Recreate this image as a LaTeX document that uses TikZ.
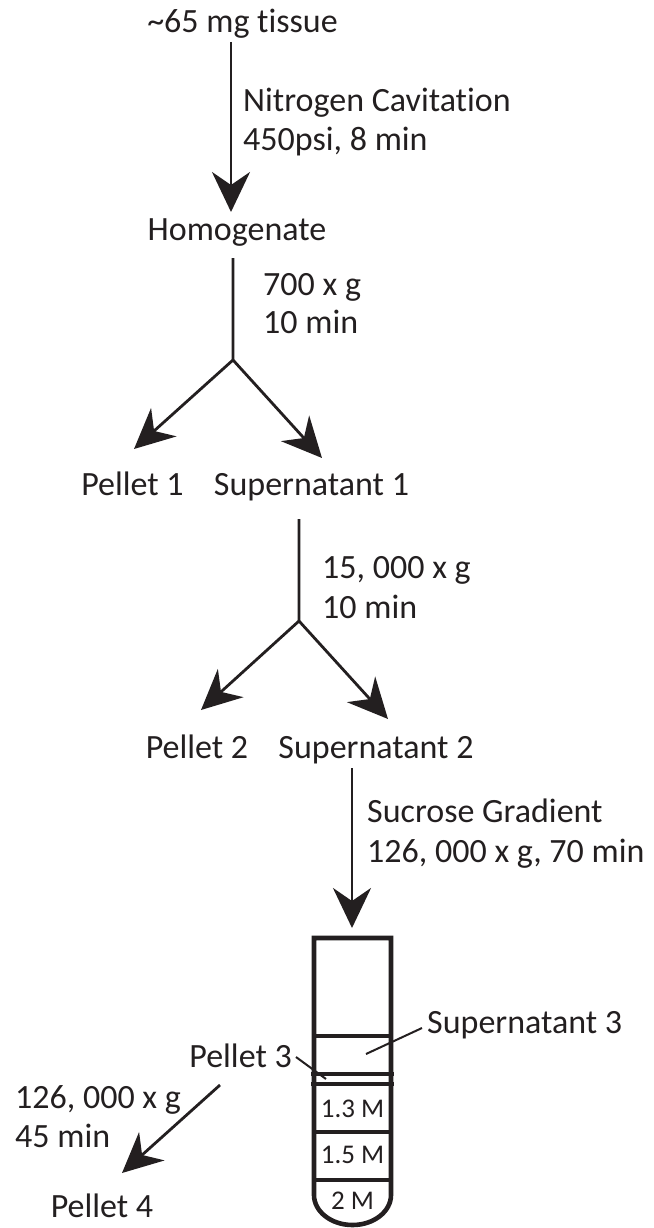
\documentclass[tikz,border=0pt]{standalone}
\usepackage{fontspec}
\setmainfont{Carlito}[Ligatures=NoCommon]
\usetikzlibrary{arrows.meta}
\definecolor{ink}{HTML}{231F20}
\begin{document}
\begin{tikzpicture}[x=1pt,y=-1pt,
  ln/.style={draw=ink,line width=2.8pt},
  arr/.style={ln,-{Stealth[length=40pt,width=38pt,inset=13pt]}},
  lbl/.style={inner sep=0pt,text=ink,font=\fontsize{34}{40}\selectfont},
  small/.style={inner sep=0pt,text=ink,font=\fontsize{27}{32}\selectfont},
  tube/.style={draw=ink,line width=4.6pt},
  lead/.style={draw=ink,line width=2pt}]
\useasboundingbox (0,0) rectangle (653,1228);
% text nodes
\node[lbl,anchor=base] (tissue) at (242.5,33) {\textasciitilde65 mg tissue};
\node[lbl,anchor=base west] (nc) at (243,112) {Nitrogen Cavitation};
\node[lbl,anchor=base west] (psi) at (243,150) {450psi, 8 min};
\node[lbl,anchor=base] (homog) at (237,240) {Homogenate};
\node[lbl,anchor=base west] (g700) at (263,295) {700 x g};
\node[lbl,anchor=base west] (m10a) at (263,333) {10 min};
\node[lbl,anchor=base] (p1) at (132.5,495) {Pellet 1};
\node[lbl,anchor=base] (s1) at (311.5,495) {Supernatant 1};
\node[lbl,anchor=base west] (g15) at (322,578) {15, 000 x g};
\node[lbl,anchor=base west] (m10b) at (322,618) {10 min};
\node[lbl,anchor=base] (p2) at (197,758) {Pellet 2};
\node[lbl,anchor=base] (s2) at (376,758) {Supernatant 2};
\node[lbl,anchor=base west] (suc) at (367,822) {Sucrose Gradient};
\node[lbl,anchor=base west] (g126a) at (367,862) {126, 000 x g, 70 min};
\node[lbl,anchor=base west] (s3) at (427,1033) {Supernatant 3};
\node[lbl,anchor=base east] (p3) at (292,1067) {Pellet 3};
\node[lbl,anchor=base west] (g126b) at (15,1108) {126, 000 x g};
\node[lbl,anchor=base west] (m45) at (15,1147) {45 min};
\node[lbl,anchor=base] (p4) at (102,1217) {Pellet 4};
\node[small,anchor=base] (m13) at (352.5,1117) {1.3 M};
\node[small,anchor=base] (m15) at (352.5,1163) {1.5 M};
\node[small,anchor=base] (m2) at (352.5,1209) {2 M};
% connector end points
\coordinate (a1s) at (231,42);  \coordinate (a1e) at (231,212);
\coordinate (l1s) at (233,258); \coordinate (b1) at (233,360);
\coordinate (p1t) at (134,449); \coordinate (s1t) at (322,458);
\coordinate (l2s) at (299,519); \coordinate (b2) at (299,621);
\coordinate (p2t) at (201,710); \coordinate (s2t) at (388,719);
\coordinate (a3s) at (352,768); \coordinate (a3e) at (352,928);
\coordinate (a4s) at (220,1085); \coordinate (a4e) at (122,1173);
\coordinate (p3l) at (326,1079); \coordinate (s3l) at (366,1054);
% connectors
\draw[arr] (a1s) -- (a1e);
\draw[arr] (l1s) -- (b1) -- (p1t);
\draw[arr,line cap=round] (b1) -- (s1t);
\draw[arr] (l2s) -- (b2) -- (p2t);
\draw[arr,line cap=round] (b2) -- (s2t);
\draw[arr] (a3s) -- (a3e);
\draw[arr] (a4s) -- (a4e);
\draw[lead] (p3.base east) ++(4,-10) -- (p3l);
\draw[lead] (s3.base west) ++(-5,-5) -- (s3l);
% tube
\draw[tube] (314,1195) -- (314,938) -- (391,938) -- (391,1195)
  arc[start angle=0,end angle=180,x radius=38.5,y radius=30] -- cycle;
\draw[tube] (314,1036) -- (391,1036);
\draw[tube] (311,1074) -- (394,1074);
\draw[tube] (311,1084) -- (394,1084);
\draw[tube] (314,1132) -- (391,1132);
\draw[tube] (314,1180) -- (391,1180);
\end{tikzpicture}
\end{document}
